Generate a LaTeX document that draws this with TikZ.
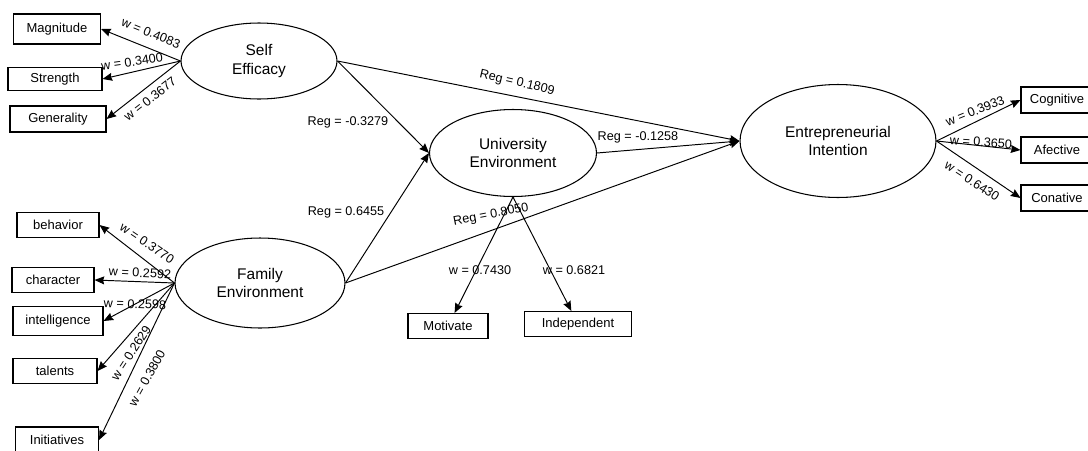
\documentclass[tikz,border=0pt]{standalone}
\usepackage{fontspec}
\setmainfont{Liberation Sans}
\usetikzlibrary{arrows.meta, shapes.geometric}

\begin{document}
\begin{tikzpicture}[>={Stealth[length=5.5pt, width=4.5pt, inset=0.6pt]}, x=0.02cm, y=-0.02cm]

    % --- Cadre ---
    \useasboundingbox (0,0) rectangle (1088,450);

    % --- Styles ---
    \tikzstyle{latent} = [draw, ellipse, line width=0.6pt, inner sep=0pt, align=center, font=\fontsize{8.8}{10.5}\selectfont]
    \tikzstyle{item} = [draw, rectangle, line width=0.6pt, inner sep=0pt, minimum height=0.5cm, font=\fontsize{7.4}{9}\selectfont]
    \tikzstyle{wlbl} = [inner sep=0pt, font=\fontsize{7.2}{9}\selectfont]
    \tikzstyle{path_arrow} = [->, line width=0.55pt]

    % --- Variables latentes ---
    \node[latent, minimum width=3.12cm, minimum height=1.52cm] (se) at (259,61) {Self\\Efficacy};
    \node[latent, minimum width=3.40cm, minimum height=1.80cm] (fe) at (260,283) {Family\\Environment};
    \node[latent, minimum width=3.34cm, minimum height=1.74cm] (ue) at (513,153) {University\\Environment};
    \node[latent, minimum width=3.92cm, minimum height=2.26cm] (ei) at (838,141) {Entrepreneurial\\Intention};

    % --- Indicateurs Self Efficacy ---
    \node[item, minimum width=1.74cm, minimum height=0.60cm] (mag) at (57,29) {Magnitude};
    \node[item, minimum width=1.88cm, minimum height=0.46cm] (str) at (55,79) {Strength};
    \node[item, minimum width=1.92cm, minimum height=0.52cm] (gen) at (58,119) {Generality};

    % --- Indicateurs Family Environment ---
    \node[item, minimum width=1.64cm] (beh) at (58,225) {behavior};
    \node[item, minimum width=1.64cm] (cha) at (53,280) {character};
    \node[item, minimum width=1.80cm, minimum height=0.58cm] (int) at (58,321) {intelligence};
    \node[item, minimum width=1.68cm] (tal) at (55,371) {talents};
    \node[item, minimum width=1.66cm, minimum height=0.52cm] (ini) at (57,440) {Initiatives};

    % --- Indicateurs University Environment ---
    \node[item, minimum width=1.60cm] (mot) at (448,326) {Motivate};
    \node[item, minimum width=2.14cm] (ind) at (578,324) {Independent};

    % --- Indicateurs Entrepreneurial Intention ---
    \node[item, minimum width=1.44cm, minimum height=0.52cm] (cog) at (1057,100) {Cognitive};
    \node[item, minimum width=1.44cm, minimum height=0.52cm] (afe) at (1057,150) {Afective};
    \node[item, minimum width=1.44cm, minimum height=0.52cm] (con) at (1057,198) {Conative};

    % --- Poids ---
    \draw[path_arrow] (se.west) -- (mag.east);
    \draw[path_arrow] (se.west) -- (str.east);
    \draw[path_arrow] (se.west) -- (gen.east);
    \draw[path_arrow] (fe.west) -- (beh.east);
    \draw[path_arrow] (fe.west) -- (cha.east);
    \draw[path_arrow] (fe.west) -- (int.east);
    \draw[path_arrow] (fe.west) -- (tal.east);
    \draw[path_arrow] (fe.west) -- (ini.east);
    \draw[path_arrow] (ue.south) -- (mot);
    \draw[path_arrow] (ue.south) -- (ind);
    \draw[path_arrow] (ei.east) -- (cog.west);
    \draw[path_arrow] (ei.east) -- (afe.west);
    \draw[path_arrow] (ei.east) -- (con.west);

    % --- Regressions ---
    \draw[path_arrow] (se.east) -- (ue.west);
    \draw[path_arrow] (fe.east) -- (ue.west);
    \draw[path_arrow] (se.east) -- (ei.west);
    \draw[path_arrow] (ue.east) -- (ei.west);
    \draw[path_arrow] (fe.east) -- (ei.west);

    % --- Labels ---
    \node[wlbl, rotate=-22] (lmag) at (151,33) {w = 0.4083};
    \node[wlbl, rotate=8] (lstr) at (132,62) {w = 0.3400};
    \node[wlbl, rotate=38] (lgen) at (150,99) {w = 0.3677};
    \node[wlbl, rotate=-34] (lbeh) at (147,243) {w = 0.3770};
    \node[wlbl, rotate=-3] (lcha) at (140,273) {w = 0.2592};
    \node[wlbl, rotate=-2] (lint) at (135,304) {w = 0.2598};
    \node[wlbl, rotate=57] (ltal) at (131,353) {w = 0.2629};
    \node[wlbl, rotate=61] (lini) at (147,378) {w = 0.3800};
    \node[wlbl] (lmot) at (480,270) {w = 0.7430};
    \node[wlbl] (lind) at (574,270) {w = 0.6821};
    \node[wlbl, rotate=22] (lcog) at (975,111) {w = 0.3933};
    \node[wlbl, rotate=-4] (lafe) at (981,142) {w = 0.3650};
    \node[wlbl, rotate=-33] (lcon) at (972,181) {w = 0.6430};

    \node[wlbl, rotate=-13] (rsei) at (517,83) {Reg = 0.1809};
    \node[wlbl] (rseue) at (348,122) {Reg = -0.3279};
    \node[wlbl] (rfeue) at (346,212) {Reg = 0.6455};
    \node[wlbl] (ruei) at (638,137) {Reg = -0.1258};
    \node[wlbl, rotate=11] (rfei) at (491,215) {Reg = 0.8050};

\end{tikzpicture}
\end{document}
